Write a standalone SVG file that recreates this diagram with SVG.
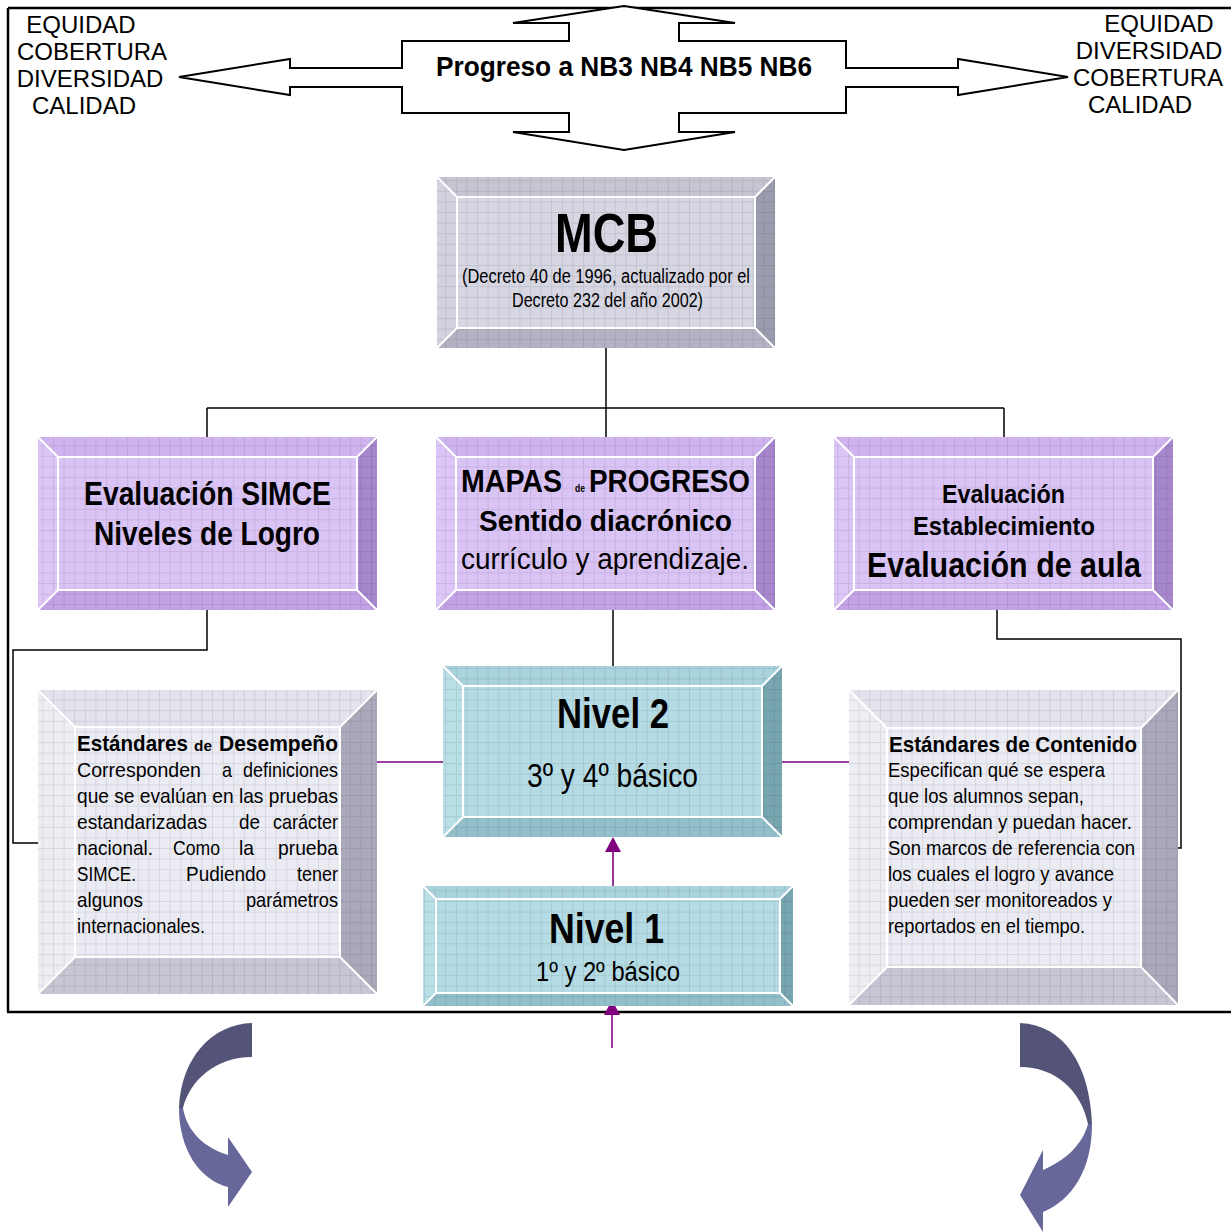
<svg xmlns="http://www.w3.org/2000/svg" width="1231" height="1232" viewBox="0 0 1231 1232">
<style>
.frame{fill:none;stroke:#000;stroke-width:2.5}
.conn{fill:none;stroke:#000;stroke-width:1.5}
.pc{fill:none;stroke:#800080;stroke-width:1.6}
.ph{fill:#800080}
.hl{fill:none;stroke:#fff;stroke-width:2}
.grid{fill:url(#grid)}
.mcb .t{fill:#c6c6d3}.mcb .l{fill:#d3d3df}.mcb .r{fill:#9c9caf}.mcb .b{fill:#b2b2c3}.mcb .f{fill:#d7d7e3}
.pur .t{fill:#cfb3ef}.pur .l{fill:#dcc6f7}.pur .r{fill:#a686cc}.pur .b{fill:#c3a2e6}.pur .f{fill:#dac4f5}
.tea .t{fill:#a9d3dd}.tea .l{fill:#b9dfe7}.tea .r{fill:#77a6b0}.tea .b{fill:#92bfc9}.tea .f{fill:#b5dce5}
.gry .t{fill:#e3e3ed}.gry .l{fill:#ededf4}.gry .r{fill:#a9a9ba}.gry .b{fill:#c6c6d4}.gry .f{fill:#ebebf3}
.arrow4{fill:#fff;stroke:#000;stroke-width:2}
text{fill:#000}
.s{font-family:"Liberation Sans",Arial,sans-serif;font-size:24px}
.n{font-family:"Liberation Sans Narrow","Liberation Sans",Arial,sans-serif}
.bd{font-weight:bold}
.dk{fill:#545478}
.lt{fill:#67679a}
</style>
<defs>
<pattern id="grid" width="10.6" height="10.6" patternUnits="userSpaceOnUse">
<path d="M0,0.5H10.6M0.5,0V10.6" stroke="#000" stroke-opacity="0.09" stroke-width="1"/>
</pattern>
</defs>

<g id="frame">
<path class="frame" d="M8,8H1231M8,8V1012M7,1012H1231"/>
</g>

<g id="labels-left">
<text class="s" x="81" y="33" text-anchor="middle">EQUIDAD</text>
<text class="s" x="92" y="60" text-anchor="middle">COBERTURA</text>
<text class="s" x="90" y="87" text-anchor="middle">DIVERSIDAD</text>
<text class="s" x="84" y="114" text-anchor="middle">CALIDAD</text>
</g>
<g id="labels-right">
<text class="s" x="1159" y="32" text-anchor="middle">EQUIDAD</text>
<text class="s" x="1149" y="59" text-anchor="middle">DIVERSIDAD</text>
<text class="s" x="1148" y="86" text-anchor="middle">COBERTURA</text>
<text class="s" x="1140" y="113" text-anchor="middle">CALIDAD</text>
</g>

<g id="progreso">
<path class="arrow4" d="M624,6L735,23L679,23L679,41L846,41L846,68L958,68L958,59L1068,77L958,95L958,87L846,87L846,113L679,113L679,132L735,132L624,150L513,132L569,132L569,113L402,113L402,87L290,87L290,95L179,77L290,59L290,68L402,68L402,41L569,41L569,23L513,23Z"/>
<text class="n bd" x="436" y="76" font-size="28" textLength="376" lengthAdjust="spacingAndGlyphs">Progreso a NB3 NB4 NB5 NB6</text>
</g>

<g id="connectors">
<path class="conn" d="M606,348V408M207,408H1004M207,408V437M606,408V437M1004,408V437"/>
<path class="conn" d="M207,610V650H13V843H38"/>
<path class="conn" d="M997,610V639H1181V848H1178"/>
<path class="conn" d="M613,610V666" stroke="#333"/>
<path class="pc" d="M377,762H443M782,762H849"/>
<path class="pc" d="M613,908V851"/>
<polygon class="ph" points="605,852 621,852 613,837"/>
<path class="pc" d="M612,1048V1014"/>
<polygon class="ph" points="604,1015 620,1015 612,1000"/>
</g>

<g id="mcb" class="mcb">
<path class="t" d="M437,177L775,177L755,197L457,197Z"/>
<path class="l" d="M437,177L457,197L457,328L437,348Z"/>
<path class="r" d="M775,177L775,348L755,328L755,197Z"/>
<path class="b" d="M437,348L457,328L755,328L775,348Z"/>
<rect class="f" x="457" y="197" width="298" height="131"/>
<rect class="grid" x="437" y="177" width="338" height="171"/>
<rect class="hl" x="457" y="197" width="298" height="131"/>
<path class="hl" d="M437,177L457,197M775,177L755,197M437,348L457,328M775,348L755,328"/>
<text class="n bd" x="555" y="252" font-size="56" textLength="103" lengthAdjust="spacingAndGlyphs">MCB</text>
<text class="n" x="462" y="283" font-size="20" textLength="288" lengthAdjust="spacingAndGlyphs">(Decreto 40 de 1996, actualizado por el</text>
<text class="n" x="512" y="307" font-size="20" textLength="191" lengthAdjust="spacingAndGlyphs">Decreto 232 del año 2002)</text>
</g>

<g id="simce" class="pur">
<path class="t" d="M38,437L377,437L357,457L58,457Z"/>
<path class="l" d="M38,437L58,457L58,590L38,610Z"/>
<path class="r" d="M377,437L377,610L357,590L357,457Z"/>
<path class="b" d="M38,610L58,590L357,590L377,610Z"/>
<rect class="f" x="58" y="457" width="299" height="133"/>
<rect class="grid" x="38" y="437" width="339" height="173"/>
<rect class="hl" x="58" y="457" width="299" height="133"/>
<path class="hl" d="M38,437L58,457M377,437L357,457M38,610L58,590M377,610L357,590"/>
<text class="n bd" x="84" y="505" font-size="33" textLength="247" lengthAdjust="spacingAndGlyphs">Evaluación SIMCE</text>
<text class="n bd" x="94" y="545" font-size="33" textLength="226" lengthAdjust="spacingAndGlyphs">Niveles de Logro</text>
</g>

<g id="mapas" class="pur">
<path class="t" d="M436,437L775,437L755,457L456,457Z"/>
<path class="l" d="M436,437L456,457L456,590L436,610Z"/>
<path class="r" d="M775,437L775,610L755,590L755,457Z"/>
<path class="b" d="M436,610L456,590L755,590L775,610Z"/>
<rect class="f" x="456" y="457" width="299" height="133"/>
<rect class="grid" x="436" y="437" width="339" height="173"/>
<rect class="hl" x="456" y="457" width="299" height="133"/>
<path class="hl" d="M436,437L456,457M775,437L755,457M436,610L456,590M775,610L755,590"/>
<text class="n bd" y="492" font-size="32"><tspan x="461" textLength="101" lengthAdjust="spacingAndGlyphs">MAPAS</tspan><tspan x="575" font-size="10" textLength="10" lengthAdjust="spacingAndGlyphs">de</tspan><tspan x="589" textLength="161" lengthAdjust="spacingAndGlyphs">PROGRESO</tspan></text>
<text class="n bd" x="479" y="531" font-size="30" textLength="253" lengthAdjust="spacingAndGlyphs">Sentido  diacrónico</text>
<text class="n" x="461" y="569" font-size="30" textLength="288" lengthAdjust="spacingAndGlyphs">currículo y aprendizaje.</text>
</g>

<g id="establecimiento" class="pur">
<path class="t" d="M834,437L1173,437L1153,457L854,457Z"/>
<path class="l" d="M834,437L854,457L854,590L834,610Z"/>
<path class="r" d="M1173,437L1173,610L1153,590L1153,457Z"/>
<path class="b" d="M834,610L854,590L1153,590L1173,610Z"/>
<rect class="f" x="854" y="457" width="299" height="133"/>
<rect class="grid" x="834" y="437" width="339" height="173"/>
<rect class="hl" x="854" y="457" width="299" height="133"/>
<path class="hl" d="M834,437L854,457M1173,437L1153,457M834,610L854,590M1173,610L1153,590"/>
<text class="n bd" x="942" y="503" font-size="25" textLength="123" lengthAdjust="spacingAndGlyphs">Evaluación</text>
<text class="n bd" x="913" y="535" font-size="25" textLength="182" lengthAdjust="spacingAndGlyphs">Establecimiento</text>
<text class="n bd" x="867" y="577" font-size="35" textLength="274" lengthAdjust="spacingAndGlyphs">Evaluación de aula</text>
</g>

<g id="nivel2" class="tea">
<path class="t" d="M443,666L782,666L762,686L463,686Z"/>
<path class="l" d="M443,666L463,686L463,817L443,837Z"/>
<path class="r" d="M782,666L782,837L762,817L762,686Z"/>
<path class="b" d="M443,837L463,817L762,817L782,837Z"/>
<rect class="f" x="463" y="686" width="299" height="131"/>
<rect class="grid" x="443" y="666" width="339" height="171"/>
<rect class="hl" x="463" y="686" width="299" height="131"/>
<path class="hl" d="M443,666L463,686M782,666L762,686M443,837L463,817M782,837L762,817"/>
<text class="n bd" x="557" y="728" font-size="43" textLength="112" lengthAdjust="spacingAndGlyphs">Nivel 2</text>
<text class="n" x="527" y="787" font-size="33" textLength="171" lengthAdjust="spacingAndGlyphs">3º y 4º básico</text>
</g>

<g id="nivel1" class="tea">
<path class="t" d="M423,886L793,886L780,899L436,899Z"/>
<path class="l" d="M423,886L436,899L436,993L423,1006Z"/>
<path class="r" d="M793,886L793,1006L780,993L780,899Z"/>
<path class="b" d="M423,1006L436,993L780,993L793,1006Z"/>
<rect class="f" x="436" y="899" width="344" height="94"/>
<rect class="grid" x="423" y="886" width="370" height="120"/>
<rect class="hl" x="436" y="899" width="344" height="94"/>
<path class="hl" d="M423,886L436,899M793,886L780,899M423,1006L436,993M793,1006L780,993"/>
<text class="n bd" x="549" y="943" font-size="42" textLength="115" lengthAdjust="spacingAndGlyphs">Nivel 1</text>
<text class="n" x="536" y="981" font-size="27" textLength="144" lengthAdjust="spacingAndGlyphs">1º y 2º básico</text>
</g>

<g id="desempeno" class="gry">
<path class="t" d="M38,690L377,690L340,727L75,727Z"/>
<path class="l" d="M38,690L75,727L75,957L38,994Z"/>
<path class="r" d="M377,690L377,994L340,957L340,727Z"/>
<path class="b" d="M38,994L75,957L340,957L377,994Z"/>
<rect class="f" x="75" y="727" width="265" height="230"/>
<rect class="grid" x="38" y="690" width="339" height="304"/>
<rect class="hl" x="75" y="727" width="265" height="230"/>
<path class="hl" d="M38,690L75,727M377,690L340,727M38,994L75,957M377,994L340,957"/>
<g class="n" font-size="21">
<text class="bd" y="751" font-size="22"><tspan x="77" textLength="111" lengthAdjust="spacingAndGlyphs">Estándares</tspan><tspan x="194" font-size="15" textLength="18" lengthAdjust="spacingAndGlyphs">de</tspan><tspan x="219" textLength="119" lengthAdjust="spacingAndGlyphs">Desempeño</tspan></text>
<text x="77" y="777" textLength="124" lengthAdjust="spacingAndGlyphs">Corresponden</text>
<text x="222" y="777" textLength="10" lengthAdjust="spacingAndGlyphs">a</text>
<text x="243" y="777" textLength="95" lengthAdjust="spacingAndGlyphs">definiciones</text>
<text x="77" y="803" textLength="261" lengthAdjust="spacingAndGlyphs">que se evalúan en las pruebas</text>
<text x="77" y="829" textLength="130" lengthAdjust="spacingAndGlyphs">estandarizadas</text>
<text x="239" y="829" textLength="21" lengthAdjust="spacingAndGlyphs">de</text>
<text x="273" y="829" textLength="65" lengthAdjust="spacingAndGlyphs">carácter</text>
<text x="77" y="855" textLength="76" lengthAdjust="spacingAndGlyphs">nacional.</text>
<text x="173" y="855" textLength="47" lengthAdjust="spacingAndGlyphs">Como</text>
<text x="239" y="855" textLength="15" lengthAdjust="spacingAndGlyphs">la</text>
<text x="278" y="855" textLength="60" lengthAdjust="spacingAndGlyphs">prueba</text>
<text x="77" y="881" textLength="59" lengthAdjust="spacingAndGlyphs">SIMCE.</text>
<text x="186" y="881" textLength="80" lengthAdjust="spacingAndGlyphs">Pudiendo</text>
<text x="297" y="881" textLength="41" lengthAdjust="spacingAndGlyphs">tener</text>
<text x="77" y="907" textLength="66" lengthAdjust="spacingAndGlyphs">algunos</text>
<text x="246" y="907" textLength="92" lengthAdjust="spacingAndGlyphs">parámetros</text>
<text x="77" y="933" textLength="128" lengthAdjust="spacingAndGlyphs">internacionales.</text>
</g>
</g>

<g id="contenido" class="gry">
<path class="t" d="M849,690L1178,690L1141,728L887,728Z"/>
<path class="l" d="M849,690L887,728L887,967L849,1005Z"/>
<path class="r" d="M1178,690L1178,1005L1141,967L1141,728Z"/>
<path class="b" d="M849,1005L887,967L1141,967L1178,1005Z"/>
<rect class="f" x="887" y="728" width="254" height="239"/>
<rect class="grid" x="849" y="690" width="329" height="315"/>
<rect class="hl" x="887" y="728" width="254" height="239"/>
<path class="hl" d="M849,690L887,728M1178,690L1141,728M849,1005L887,967M1178,1005L1141,967"/>
<g class="n" font-size="21">
<text class="bd" x="889" y="752" font-size="22" textLength="248" lengthAdjust="spacingAndGlyphs">Estándares de Contenido</text>
<text x="888" y="777" textLength="217" lengthAdjust="spacingAndGlyphs">Especifican qué se espera</text>
<text x="888" y="803" textLength="196" lengthAdjust="spacingAndGlyphs">que los alumnos sepan,</text>
<text x="888" y="829" textLength="244" lengthAdjust="spacingAndGlyphs">comprendan y puedan hacer.</text>
<text x="888" y="855" textLength="247" lengthAdjust="spacingAndGlyphs">Son marcos de referencia con</text>
<text x="888" y="881" textLength="226" lengthAdjust="spacingAndGlyphs">los cuales el logro y avance</text>
<text x="888" y="907" textLength="224" lengthAdjust="spacingAndGlyphs">pueden ser monitoreados y</text>
<text x="888" y="933" textLength="197" lengthAdjust="spacingAndGlyphs">reportados en el tiempo.</text>
</g>
</g>

<g id="curve-left">
<path class="dk" d="M252,1023C212,1024 181,1058 179,1108L183,1108C190,1080 216,1057 252,1057Z"/>
<path class="lt" d="M179,1108C179,1150 200,1180 228,1187L228,1207L252,1172L228,1137L228,1155C205,1148 187,1132 183,1108Z"/>
</g>
<g id="curve-right">
<path class="dk" d="M1020,1023C1064,1025 1090,1065 1092,1124L1088,1124C1081,1090 1055,1067 1020,1067Z"/>
<path class="lt" d="M1092,1124C1092,1170 1072,1200 1043,1212L1043,1232L1020,1195L1043,1150L1043,1170C1064,1161 1082,1146 1088,1124Z"/>
</g>
</svg>
